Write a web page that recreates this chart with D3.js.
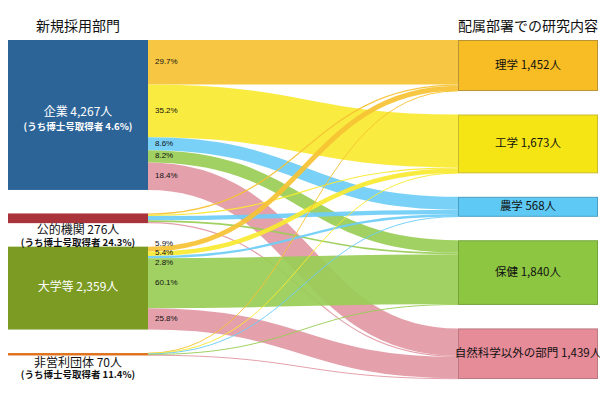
<!DOCTYPE html>
<html>
<head>
<meta charset="utf-8">
<script src="https://cdn.jsdelivr.net/npm/d3@7"></script>
<style>
  body { margin: 0; background: #fff; }
  text { font-family: "Noto Sans CJK JP", "Noto Sans", sans-serif; }
  text.pct { font-family: "Liberation Sans", Arial, sans-serif; }
</style>
</head>
<body>
<div id="chart"></div>
<script>
// 新規採用部門 -> 配属部署での研究内容
var sources = ["企業", "公的機関", "大学等", "非営利団体"];
var sourceTotals = [4267, 276, 2359, 70];
var phdShare = [4.6, 24.3, null, 11.4];
var sourceColors = ["#2d6498", "#a9323b", "#7b9b23", "#e0721e"];

var targets = ["理学", "工学", "農学", "保健", "自然科学以外の部門"];
var targetTotals = [1452, 1673, 568, 1840, 1439];
var targetColors = ["#f8bd24", "#f6e515", "#5fc9f5", "#8dc641", "#e68b98"];
var targetStroke = ["#b89433", "#c9bc2a", "#4a9fc0", "#74a43a", "#b97882"];
var linkColors = ["#f6c233", "#f8e930", "#6ecdf6", "#99cd55", "#e298a4"];

// people per flow (rows = sources, cols = targets)
var flows = [
    [1267, 1502, 367, 350, 781],
    [38, 32, 125, 48, 33],
    [139, 127, 66, 1418, 609],
    [8, 12, 10, 24, 16]
];
// shown percentages of each source
var flowPct = [
    [29.7, 35.2, 8.6, 8.2, 18.4],
    null,
    [5.9, 5.4, 2.8, 60.1, 25.8],
    null
];

var WIDTH = 600, HEIGHT = 399;
var TOP = 40, BOTTOM = 379, GAP = 23.5;
var LEFT_X = 8, RIGHT_X = 458, NODE_W = 140;

var total = d3.sum(targetTotals);
var y = d3.scaleLinear()
    .domain([0, total])
    .range([0, (BOTTOM - TOP) - (targets.length - 1) * GAP]);

var svg = d3.select("#chart").append("svg")
    .attr("width", WIDTH)
    .attr("height", HEIGHT);

// node layout
function layout(names, totals) {
    var pos = TOP;
    return names.map(function (n, i) {
        var h = y(totals[i]);
        var node = {name: n, value: totals[i], y0: pos, y1: pos + h, index: i};
        pos += h + GAP;
        return node;
    });
}
var leftNodes = layout(sources, sourceTotals);
var rightNodes = layout(targets, targetTotals);

// links: source side ordered by target, target side ordered by source
var links = [];
var targetOffset = rightNodes.map(function (d) { return d.y0; });
leftNodes.forEach(function (s, i) {
    var off = s.y0;
    targets.forEach(function (t, j) {
        var w = y(flows[i][j]);
        links.push({s: i, t: j, width: w, sy: off + w / 2, ty: 0});
        off += w;
    });
});
targets.forEach(function (t, j) {
    links.filter(function (l) { return l.t === j; })
        .sort(function (a, b) { return a.s - b.s; })
        .forEach(function (l) {
            l.ty = targetOffset[j] + l.width / 2;
            targetOffset[j] += l.width;
        });
});

var linkPath = d3.linkHorizontal()
    .source(function (d) { return [LEFT_X + NODE_W, d.sy]; })
    .target(function (d) { return [RIGHT_X, d.ty]; });

svg.append("g").attr("class", "links")
    .selectAll("path")
    .data(links)
    .enter().append("path")
    .attr("d", linkPath)
    .attr("fill", "none")
    .attr("stroke", function (d) { return linkColors[d.t]; })
    .attr("stroke-opacity", 0.92)
    .attr("stroke-width", function (d) { return Math.max(1, d.width); });

// left nodes
var left = svg.append("g").attr("class", "left");
left.selectAll("rect")
    .data(leftNodes)
    .enter().append("rect")
    .attr("x", LEFT_X)
    .attr("y", function (d) { return d.y0; })
    .attr("width", NODE_W)
    .attr("height", function (d) { return Math.max(1, d.y1 - d.y0); })
    .attr("fill", function (d) { return sourceColors[d.index]; });

var fmt = d3.format(",");
leftNodes.forEach(function (d) {
    var inside = (d.y1 - d.y0) > 40;
    var cx = LEFT_X + NODE_W / 2;
    var main = d.name + " " + fmt(d.value) + "人";
    var sub = phdShare[d.index] != null ? "(うち博士号取得者  " + phdShare[d.index] + "%)" : null;
    var mainY;
    if (inside) {
        var cy = (d.y0 + d.y1) / 2;
        mainY = sub ? cy - 2 : cy;
    } else {
        mainY = d.y1 + 8;
    }
    // one text element, second line as tspan
    var t = left.append("text")
        .attr("text-anchor", "middle")
        .attr("fill", inside ? "#fff" : "#111");
    t.append("tspan")
        .attr("x", cx).attr("y", mainY)
        .attr("dominant-baseline", "middle")
        .attr("font-size", "12px")
        .text(main);
    if (sub) {
        t.append("tspan")
            .attr("x", cx).attr("y", mainY + (inside ? 14 : 12))
            .attr("dominant-baseline", "middle")
            .attr("font-size", "9.5px")
            .attr("font-weight", "bold")
            .text(sub);
    }
});

// percentage labels next to the source, spread apart when crowded
var MIN_SP = 9.5;
flowPct.forEach(function (row, i) {
    if (!row) return;
    var lab = links.filter(function (l) { return l.s === i; })
        .map(function (l) { return {text: row[l.t] + "%", y: l.sy}; });
    var groups = lab.map(function (l) { return {items: [l], c: l.y}; });
    var merged = true;
    while (merged) {
        merged = false;
        for (var g = 0; g < groups.length - 1; g++) {
            var a = groups[g], b = groups[g + 1];
            var aEnd = a.c + (a.items.length - 1) * MIN_SP / 2;
            var bStart = b.c - (b.items.length - 1) * MIN_SP / 2;
            if (bStart - aEnd < MIN_SP) {
                var items = a.items.concat(b.items);
                groups.splice(g, 2, {items: items, c: d3.mean(items, function (d) { return d.y; })});
                merged = true;
                break;
            }
        }
    }
    groups.forEach(function (gr) {
        gr.items.forEach(function (it, k) {
            it.ly = gr.c + (k - (gr.items.length - 1) / 2) * MIN_SP;
        });
    });
    svg.append("g").selectAll("text")
        .data(lab)
        .enter().append("text")
        .attr("class", "pct")
        .attr("x", LEFT_X + NODE_W + 7)
        .attr("y", function (d) { return d.ly; })
        .attr("dominant-baseline", "middle")
        .attr("font-size", "8px")
        .attr("fill", "#111")
        .text(function (d) { return d.text; });
});

// right nodes
var right = svg.append("g").attr("class", "right");
right.selectAll("rect")
    .data(rightNodes)
    .enter().append("rect")
    .attr("x", RIGHT_X + 0.5)
    .attr("y", function (d) { return d.y0 + 0.5; })
    .attr("width", NODE_W - 1)
    .attr("height", function (d) { return d.y1 - d.y0 - 1; })
    .attr("fill", function (d) { return targetColors[d.index]; })
    .attr("stroke", function (d) { return targetStroke[d.index]; })
    .attr("stroke-width", 1);
right.selectAll("text")
    .data(rightNodes)
    .enter().append("text")
    .attr("x", RIGHT_X + NODE_W / 2)
    .attr("y", function (d) { return (d.y0 + d.y1) / 2; })
    .attr("text-anchor", "middle")
    .attr("dominant-baseline", "middle")
    .attr("font-size", "11.5px")
    .attr("fill", "#111")
    .text(function (d) { return d.name + " " + fmt(d.value) + "人"; });

// column titles
svg.append("text")
    .attr("x", LEFT_X + NODE_W / 2).attr("y", 31)
    .attr("text-anchor", "middle")
    .attr("font-size", "14px")
    .attr("fill", "#111")
    .text("新規採用部門");
svg.append("text")
    .attr("x", RIGHT_X + NODE_W / 2).attr("y", 31)
    .attr("text-anchor", "middle")
    .attr("font-size", "14px")
    .attr("fill", "#111")
    .text("配属部署での研究内容");
</script>
</body>
</html>
